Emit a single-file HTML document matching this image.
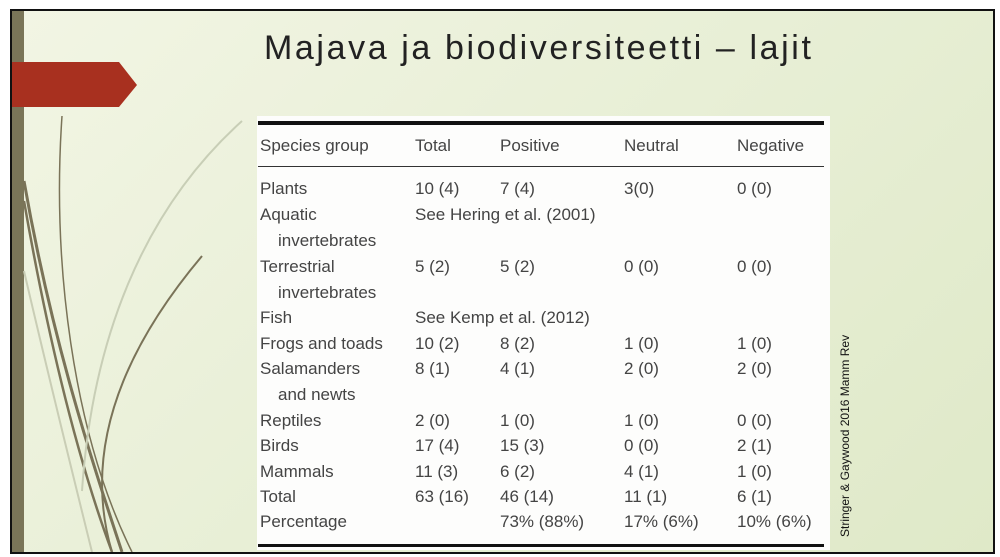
<!DOCTYPE html>
<html><head><meta charset="utf-8"><style>
body{margin:0;width:1000px;height:557px;overflow:hidden;background:#fff;font-family:"Liberation Sans",sans-serif;}
#s{position:absolute;left:10px;top:9px;width:981px;height:541px;border:2px solid #111;background:linear-gradient(135deg,#f2f5e4 0%,#e8efd6 50%,#dfe9c8 100%);overflow:hidden}
.t{position:absolute;font-size:17px;color:#444;white-space:nowrap}
#r{position:absolute;left:0;top:-2px;width:981px;height:541px}
</style></head><body>
<div id="s">
<div style="position:absolute;left:0;top:0;width:12px;height:541px;background:#7a7558"></div>
<svg style="position:absolute;left:0;top:0" width="981" height="541">
<polygon points="0,51 107,51 125,74 107,96 0,96" fill="#a8301f"/>
<path d="M50,105 C40,250 60,420 120,541" stroke="#7a7358" stroke-width="1.5" fill="none"/>
<path d="M12,170 C40,330 80,450 110,541" stroke="#7a7358" stroke-width="3" fill="none"/>
<path d="M12,190 C40,350 70,460 100,541" stroke="#7a7358" stroke-width="2.5" fill="none"/>
<path d="M190,245 C110,340 70,440 100,541" stroke="#7a7358" stroke-width="2" fill="none"/>
<path d="M230,110 C130,200 80,330 70,480" stroke="#c8ceb6" stroke-width="2" fill="none"/>
<path d="M12,260 C40,380 60,460 80,541" stroke="#c9cdb5" stroke-width="2" fill="none"/>
</svg>
<div style="position:absolute;left:252px;top:18px;font-size:34px;letter-spacing:2.6px;color:#222;white-space:nowrap">Majava ja biodiversiteetti – lajit</div>
<div style="position:absolute;left:245px;top:105px;width:573px;height:434px;background:#fdfdfc"></div>
<div style="position:absolute;left:246px;top:110px;width:566px;height:4px;background:#111"></div>
<div style="position:absolute;left:246px;top:155px;width:566px;height:1px;background:#333"></div>
<div style="position:absolute;left:246px;top:533px;width:566px;height:3px;background:#111"></div>
<div style="position:absolute;left:826px;top:526px;transform:rotate(-90deg);transform-origin:0 0;font-size:12px;color:#111;white-space:nowrap">Stringer &amp; Gaywood 2016 Mamm Rev</div>
<div id="r">
<div class="t" style="left:248px;top:127px">Species group</div><div class="t" style="left:403px;top:127px">Total</div><div class="t" style="left:488px;top:127px">Positive</div><div class="t" style="left:612px;top:127px">Neutral</div><div class="t" style="left:725px;top:127px">Negative</div>
<div class="t" style="left:248px;top:170px">Plants</div><div class="t" style="left:403px;top:170px">10 (4)</div><div class="t" style="left:488px;top:170px">7 (4)</div><div class="t" style="left:612px;top:170px">3(0)</div><div class="t" style="left:725px;top:170px">0 (0)</div>
<div class="t" style="left:248px;top:196px">Aquatic</div><div class="t" style="left:403px;top:196px">See Hering et al. (2001)</div>
<div class="t" style="left:266px;top:222px">invertebrates</div>
<div class="t" style="left:248px;top:248px">Terrestrial</div><div class="t" style="left:403px;top:248px">5 (2)</div><div class="t" style="left:488px;top:248px">5 (2)</div><div class="t" style="left:612px;top:248px">0 (0)</div><div class="t" style="left:725px;top:248px">0 (0)</div>
<div class="t" style="left:266px;top:274px">invertebrates</div>
<div class="t" style="left:248px;top:299px">Fish</div><div class="t" style="left:403px;top:299px">See Kemp et al. (2012)</div>
<div class="t" style="left:248px;top:325px">Frogs and toads</div><div class="t" style="left:403px;top:325px">10 (2)</div><div class="t" style="left:488px;top:325px">8 (2)</div><div class="t" style="left:612px;top:325px">1 (0)</div><div class="t" style="left:725px;top:325px">1 (0)</div>
<div class="t" style="left:248px;top:350px">Salamanders</div><div class="t" style="left:403px;top:350px">8 (1)</div><div class="t" style="left:488px;top:350px">4 (1)</div><div class="t" style="left:612px;top:350px">2 (0)</div><div class="t" style="left:725px;top:350px">2 (0)</div>
<div class="t" style="left:266px;top:376px">and newts</div>
<div class="t" style="left:248px;top:402px">Reptiles</div><div class="t" style="left:403px;top:402px">2 (0)</div><div class="t" style="left:488px;top:402px">1 (0)</div><div class="t" style="left:612px;top:402px">1 (0)</div><div class="t" style="left:725px;top:402px">0 (0)</div>
<div class="t" style="left:248px;top:427px">Birds</div><div class="t" style="left:403px;top:427px">17 (4)</div><div class="t" style="left:488px;top:427px">15 (3)</div><div class="t" style="left:612px;top:427px">0 (0)</div><div class="t" style="left:725px;top:427px">2 (1)</div>
<div class="t" style="left:248px;top:453px">Mammals</div><div class="t" style="left:403px;top:453px">11 (3)</div><div class="t" style="left:488px;top:453px">6 (2)</div><div class="t" style="left:612px;top:453px">4 (1)</div><div class="t" style="left:725px;top:453px">1 (0)</div>
<div class="t" style="left:248px;top:478px">Total</div><div class="t" style="left:403px;top:478px">63 (16)</div><div class="t" style="left:488px;top:478px">46 (14)</div><div class="t" style="left:612px;top:478px">11 (1)</div><div class="t" style="left:725px;top:478px">6 (1)</div>
<div class="t" style="left:248px;top:503px">Percentage</div><div class="t" style="left:488px;top:503px">73% (88%)</div><div class="t" style="left:612px;top:503px">17% (6%)</div><div class="t" style="left:725px;top:503px">10% (6%)</div>
</div>
</div>
</body></html>
